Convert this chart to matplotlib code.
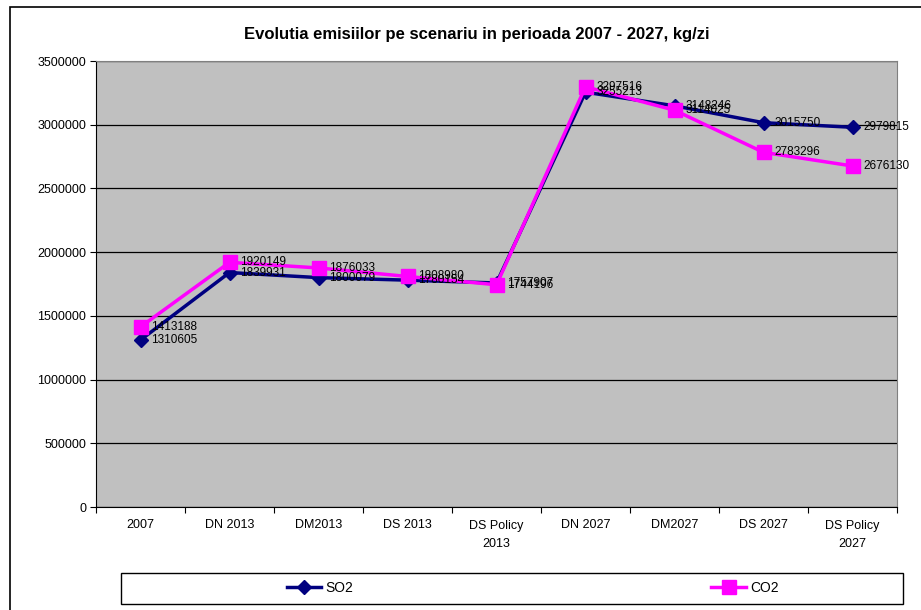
import matplotlib.pyplot as plt
from matplotlib.patches import Rectangle
from matplotlib.lines import Line2D
import numpy as np

categories = ['2007', 'DN 2013', 'DM2013', 'DS 2013', 'DS Policy\n2013',
              'DN 2027', 'DM2027', 'DS 2027', 'DS Policy\n2027']
so2 = [1310605, 1839931, 1800079, 1780154, 1757907, 3255213, 3148246, 3015750, 2979815]
co2 = [1413188, 1920149, 1876033, 1808980, 1744196, 3297516, 3114025, 2783296, 2676130]
yticks = [0, 500000, 1000000, 1500000, 2000000, 2500000, 3000000, 3500000]

plt.rcParams['font.family'] = ['Liberation Sans', 'DejaVu Sans']

fig = plt.figure(figsize=(9.21, 6.10), dpi=100)
W, H = 921, 610

# outer chart border (runs off the right and bottom of the image)
fig.patches.append(Rectangle((10 / W, -0.05), 1.05, 1 - 7 / H + 0.05,
                             transform=fig.transFigure, fill=False,
                             edgecolor='black', linewidth=1.2))

ax = fig.add_axes([96 / W, 1 - 507 / H, 801 / W, 446 / H])
ax.set_facecolor('#C0C0C0')
x = np.arange(len(categories))

so2_style = dict(color='#000080', linewidth=2.5, marker='D', markersize=7)
co2_style = dict(color='#FF00FF', linewidth=2.5, marker='s', markersize=10)
ax.plot(x, so2, zorder=3, **so2_style)
ax.plot(x, co2, zorder=4, **co2_style)

for xi, v in zip(x, so2):
    ax.text(xi + 0.12, v, str(v), fontsize=8.5, va='center', ha='left', zorder=5)
for xi, v in zip(x, co2):
    ax.text(xi + 0.12, v, str(v), fontsize=8.5, va='center', ha='left', zorder=5)

ax.set_xlim(-0.5, len(categories) - 0.5)
ax.set_ylim(0, 3500000)
ax.set_yticks(yticks)
ax.set_yticklabels([str(t) for t in yticks], fontsize=9)
ax.yaxis.grid(True, color='black', linewidth=0.9)
ax.set_axisbelow(True)

ax.set_xticks(np.arange(-0.5, len(categories), 1.0))
ax.set_xticklabels([])
ax.set_xticks(x, minor=True)
ax.set_xticklabels(categories, minor=True, fontsize=9, linespacing=1.7)
ax.tick_params(axis='x', which='minor', length=0, pad=9)
ax.tick_params(axis='x', which='major', length=4, color='black')
ax.tick_params(axis='y', length=4, pad=3)

for s in ['top', 'right']:
    ax.spines[s].set_color('#808080')
ax.spines['left'].set_color('black')
ax.spines['bottom'].set_color('black')

fig.text(477 / W, 1 - 35 / H,
         'Evolutia emisiilor pe scenariu in perioada 2007 - 2027, kg/zi',
         ha='center', va='center', fontsize=12, fontweight='bold')

# legend box with one entry centred in each half
fig.patches.append(Rectangle((121 / W, 1 - 604 / H), 782 / W, 31 / H,
                             transform=fig.transFigure, fill=False,
                             edgecolor='black', linewidth=1.0))
entries = [('SO2', so2_style, 320), ('CO2', co2_style, 745)]
for name, style, cx in entries:
    h = Line2D([], [], **style)
    fig.legend([h], [name], loc='center', bbox_to_anchor=(cx / W, 1 - 588 / H),
               frameon=False, fontsize=10, handlelength=2.5, handletextpad=0.3)

fig.savefig('out.png', dpi=100)
